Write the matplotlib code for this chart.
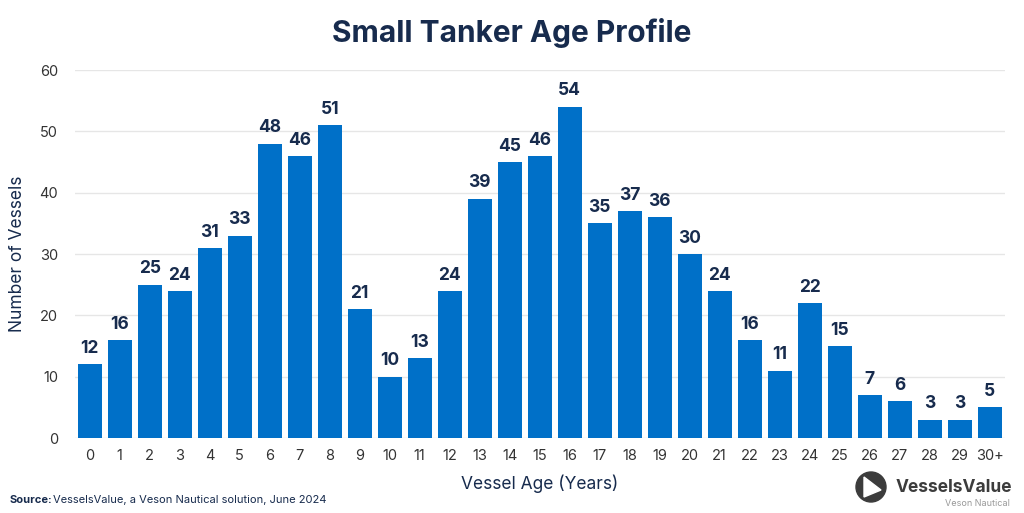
import matplotlib
matplotlib.use("Agg")
import matplotlib.pyplot as plt
from matplotlib.patches import Circle, Polygon
from matplotlib.transforms import IdentityTransform

categories = [str(i) for i in range(30)] + ["30+"]
values = [12, 16, 25, 24, 31, 33, 48, 46, 51, 21, 10, 13, 24, 39, 45, 46, 54,
          35, 37, 36, 30, 24, 16, 11, 22, 15, 7, 6, 3, 3, 5]
yticks = [0, 10, 20, 30, 40, 50, 60]

plt.rcParams['font.family'] = ['Inter', 'DejaVu Sans']
navy = '#172b4d'
blue = '#0070c8'

fig = plt.figure(figsize=(10.24, 5.13), dpi=100)
ax = fig.add_axes([0.073, 0.146, 0.908, 0.7175])
x = list(range(len(categories)))
ax.bar(x, values, width=0.8, color=blue, zorder=3)
for xi, v in zip(x, values):
    ax.text(xi, v + 1.2, str(v), ha='center', va='bottom', fontsize=12.5,
            fontweight='bold', color=navy, zorder=4)
ax.set_xlim(-0.5, 30.5)
ax.set_ylim(0, 60)
ax.set_yticks(yticks)
ax.set_xticks(x)
ax.set_xticklabels(categories)
ax.tick_params(axis='both', length=0, labelsize=10.5, colors='#333333', pad=8)
ax.tick_params(axis='y', pad=12)
ax.grid(axis='y', color='#e6e6e6', linewidth=1, zorder=0)
for s in ax.spines.values():
    s.set_visible(False)
ax.set_ylabel('Number of Vessels', fontsize=12.5, color=navy, labelpad=10)
ax.set_xlabel('Vessel Age (Years)', fontsize=12.5, color=navy, labelpad=8)

fig.text(0.5, 0.935, 'Small Tanker Age Profile', ha='center', va='center',
         fontsize=21.5, fontweight='bold', color=navy)
fig.text(0.009, 0.025, 'Source:', ha='left', va='center', fontsize=8,
         fontweight='bold', color=navy)
fig.text(0.052, 0.025, 'VesselsValue, a Veson Nautical solution, June 2024',
         ha='left', va='center', fontsize=8, color=navy)

# logo
fig.patches.append(Circle((871, 513 - 487), 15, transform=IdentityTransform(), color='#3c3c3c'))
fig.patches.append(Polygon([(864, 513 - 477), (864, 513 - 497), (881, 513 - 490)], closed=True,
                           transform=IdentityTransform(), color='white'))
fig.text(1012 / 1024, 1 - 487 / 513, 'VesselsValue', ha='right', va='center',
         fontsize=12.5, fontweight='bold', color='#3c3c3c')
fig.text(1010 / 1024, 1 - 504 / 513, 'Veson Nautical', ha='right', va='center',
         fontsize=6.5, color='#999999')

fig.savefig('out.png', dpi=100)
